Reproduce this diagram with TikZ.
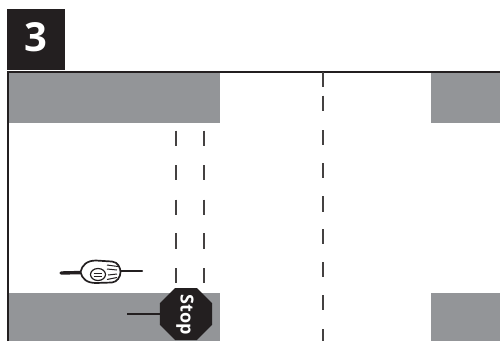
\documentclass[tikz,border=0pt]{standalone}
\usepackage{fontspec}
\setmainfont{Open Sans}
\usetikzlibrary{shapes.geometric}
\definecolor{ink}{HTML}{231F20}
\definecolor{road}{HTML}{939598}
\tikzset{
  x=1pt,y=-1pt,
  frameline/.style={draw=ink,line width=2.4pt},
  curb/.style={fill=road,draw=none},
  lane/.style={draw=ink!85,line width=1.5pt},
  stoppole/.style={draw=ink,line width=2.2pt},
  bikeline/.style={draw=ink,line width=1.7pt,fill=white,line join=round},
  bikebar/.style={draw=ink,line cap=round},
  bikedetail/.style={draw=ink,line width=1pt}
}
\begin{document}
\begin{tikzpicture}
\useasboundingbox (0,0) rectangle (500,341);
\fill[white] (0,0) rectangle (500,341);
\node[fill=ink,minimum width=58pt,minimum height=60.5pt,inner sep=0pt] (badge) at (36,39.3) {};
\node[text=white,inner sep=0pt,font=\fontsize{40}{40}\selectfont\bfseries] (badgenum) at (36,37.6) {3};
\fill[curb] (8,73) rectangle (220,123);
\fill[curb] (431,73) rectangle (500,122.5);
\fill[curb] (8,293) rectangle (220,341);
\fill[curb] (431,293) rectangle (500,341);
\coordinate (ftl) at (8,72);\coordinate (ftr) at (500,72);\coordinate (fbl) at (8,341);
\draw[frameline] (fbl) -- (ftl) -- (ftr);
\foreach \x in {176,204}{\foreach \y/\e in {130.5/146,165/180,199.5/215,233/249,268/283}{\draw[lane] (\x,\y) -- (\x,\e);}}
\foreach \y/\e in {72/86.5,95.5/111,130/145,163/178,196/212,229/244,262/277,295/310,329/341}{\draw[lane] (323,\y) -- (323,\e);}
\coordinate (polestart) at (127,314);
\node[regular polygon,regular polygon sides=8,fill=ink,minimum size=56.3pt,inner sep=0pt] (stop) at (186,314) {};
\node[rotate=-90,text=white,inner sep=0pt,font=\fontsize{18}{18}\selectfont\bfseries] (stoptext) at (185,315) {Stop};
\draw[stoppole] (polestart) -- (stop);
\coordinate (bl) at (61,273);\coordinate (br) at (142,271);
\draw[bikebar,line width=3.4pt] (bl) -- (82,272.5);
\draw[bikebar,line width=2.4pt] (115,271) -- (br);
\draw[bikeline] (80.5,272) .. controls (82,265) and (87,260.5) .. (96,260.5) -- (112,261.5) .. controls (118,262) and (120.5,268) .. (120.5,272) .. controls (120.5,277) and (117,282) .. (112,282.5) -- (96,283) .. controls (87,283) and (82,279) .. (80.5,272) -- cycle;
\draw[bikedetail,line width=1.2pt] (98,274.5) ellipse (7.5pt and 6pt);
\draw[bikedetail] (93.5,273) -- (102,273) (93.5,276) -- (102,276);
\draw[bikedetail] (107,265) -- (118,266.5) (107,269) -- (117,270) (107,279.5) -- (117,277.5) (108,275) -- (117,274);
\end{tikzpicture}
\end{document}
